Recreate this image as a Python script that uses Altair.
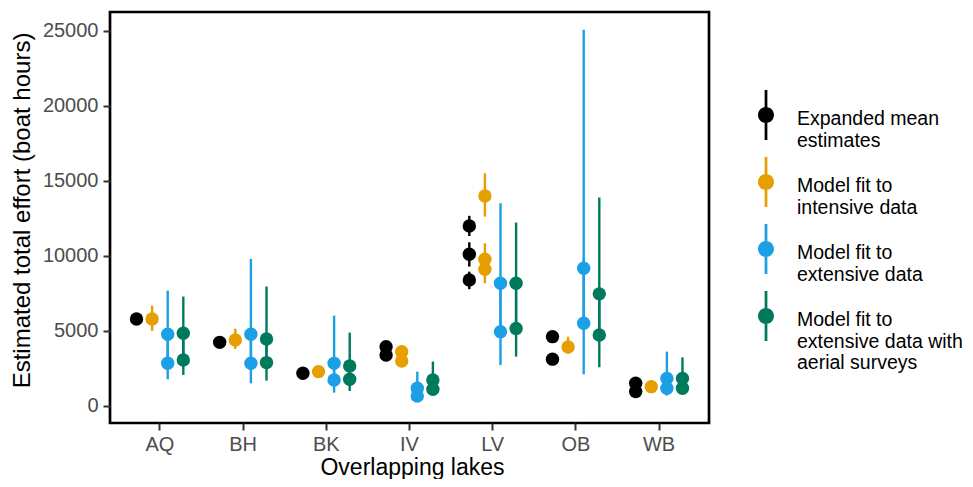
import altair as alt
import pandas as pd

lakes = ["AQ", "BH", "BK", "IV", "LV", "OB", "WB"]
series = [
    "Expanded mean estimates",
    "Model fit to intensive data",
    "Model fit to extensive data",
    "Model fit to extensive data with aerial surveys",
]
legend_lines = [
    ["Expanded mean", "estimates"],
    ["Model fit to", "intensive data"],
    ["Model fit to", "extensive data"],
    ["Model fit to", "extensive data with", "aerial surveys"],
]
colors = ["#000000", "#E69F00", "#1BA0E5", "#007A5C"]

# Expanded mean estimates
exp_lake = ["AQ", "BH", "BK", "IV", "IV", "LV", "LV", "LV", "OB", "OB", "WB", "WB"]
exp_est = [5800, 4240, 2180, 3950, 3400, 12000, 10110, 8400, 4620, 3120, 1510, 960]
exp_lo = [5580, 4080, 2060, 3790, 3250, 11330, 9290, 7780, 4460, 2960, 1400, 860]
exp_hi = [6050, 4420, 2310, 4110, 3560, 12670, 10910, 8950, 4790, 3290, 1620, 1060]

# Model fit to intensive data
int_lake = ["AQ", "BH", "BK", "IV", "IV", "LV", "LV", "LV", "OB", "WB"]
int_est = [5800, 4400, 2290, 3620, 3000, 13990, 9780, 9110, 3930, 1290]
int_lo = [5000, 3800, 2150, 3460, 2850, 12620, 8950, 8180, 3500, 1150]
int_hi = [6690, 5150, 2430, 3790, 3150, 15510, 10840, 9950, 4620, 1450]

# Model fit to extensive data
ext_lake = ["AQ", "AQ", "BH", "BH", "BK", "BK", "IV", "IV", "LV", "LV", "OB", "OB", "WB", "WB"]
ext_est = [4780, 2850, 4780, 2850, 2840, 1730, 1180, 670, 8180, 4950, 9180, 5510, 1840, 1180]
ext_lo = [2700, 1780, 2800, 1510, 1600, 890, 700, 420, 4600, 2730, 5200, 2110, 1100, 700]
ext_hi = [7690, 4500, 9800, 4600, 6020, 2900, 2290, 1300, 13510, 8300, 25070, 9800, 3620, 2200]

# Model fit to extensive data with aerial surveys
aer_lake = ["AQ", "AQ", "BH", "BH", "BK", "BK", "IV", "IV", "LV", "LV", "OB", "OB", "WB", "WB"]
aer_est = [4850, 3070, 4470, 2890, 2670, 1780, 1730, 1110, 8180, 5170, 7470, 4730, 1840, 1180]
aer_lo = [3000, 2070, 2900, 1690, 1500, 1000, 1100, 800, 5000, 3290, 4300, 2580, 1150, 800]
aer_hi = [7290, 4800, 7960, 4600, 4890, 2800, 2960, 1900, 12220, 8000, 13890, 7400, 3240, 2100]

y_ticks = [0, 5000, 10000, 15000, 20000, 25000]

frames = []
for s, c, lk, est, lo, hi in [
    (series[0], colors[0], exp_lake, exp_est, exp_lo, exp_hi),
    (series[1], colors[1], int_lake, int_est, int_lo, int_hi),
    (series[2], colors[2], ext_lake, ext_est, ext_lo, ext_hi),
    (series[3], colors[3], aer_lake, aer_est, aer_lo, aer_hi),
]:
    frames.append(pd.DataFrame({"lake": lk, "series": s, "col": c, "estimate": est, "lower": lo, "upper": hi}))
df = pd.concat(frames, ignore_index=True)

FONT = "Liberation Sans"

# multi-line legend labels
parts = []
for s, lines in zip(series, legend_lines):
    arr = "[" + ",".join("'" + l + "'" for l in lines) + "]"
    parts.append(f"datum.label == '{s}' ? {arr} : ")
label_expr = "".join(parts) + "datum.label"

# pointrange key: vertical line with a dot, drawn slightly above the entry centre
key_path = (
    "M-0.055,-1.16 L0.055,-1.16 L0.055,-0.41 L-0.055,-0.41 Z "
    "M-0.055,0.09 L0.055,0.09 L0.055,0.84 L-0.055,0.84 Z "
    "M-0.32,-0.16 A0.32,0.32 0 1,1 0.32,-0.16 A0.32,0.32 0 1,1 -0.32,-0.16 Z"
)

color_scale = alt.Scale(domain=series, range=colors)
x_enc = alt.X(
    "lake:N",
    scale=alt.Scale(domain=lakes, paddingInner=0, paddingOuter=0.1),
    axis=alt.Axis(
        title="Overlapping lakes",
        titleX=302,
        titleY=51,
        titleBaseline="alphabetic",
        titleFontSize=23,
        labelPadding=4,
    ),
)
xoff = alt.XOffset("series:N", scale=alt.Scale(domain=series, paddingInner=0, paddingOuter=0.667))
y_scale = alt.Scale(domain=[-1133, 26250], nice=False, zero=False)

base = alt.Chart(df)

rules = base.mark_rule(strokeWidth=2.4).encode(
    x=x_enc,
    xOffset=xoff,
    y=alt.Y(
        "lower:Q",
        scale=y_scale,
        axis=alt.Axis(
            title="Estimated total effort (boat hours)",
            values=y_ticks,
            format="d",
            titleX=-81,
            titleY=198,
            titleBaseline="alphabetic",
        ),
    ),
    y2="upper:Q",
    stroke=alt.Stroke("col:N", scale=None),
)

points = base.mark_circle(size=180, opacity=1).encode(
    x=x_enc,
    xOffset=xoff,
    y=alt.Y("estimate:Q", scale=y_scale),
    color=alt.Color(
        "series:N",
        scale=color_scale,
        legend=alt.Legend(
            title=None,
            orient="none",
            legendX=631,
            legendY=82,
            symbolType=key_path,
            symbolSize=2500,
            symbolStrokeWidth=0,
            symbolOpacity=1,
            labelExpr=label_expr,
            labelFont=FONT,
            labelFontSize=19.5,
            labelColor="#000000",
            labelOffset=6,
            labelLimit=400,
            rowPadding=7,
            padding=0,
        ),
    ),
)

chart = (
    alt.layer(rules, points)
    .properties(
        width=599,
        height=411,
        autosize=alt.AutoSizeParams(type="none"),
        padding={"left": 102, "top": 4, "right": 256, "bottom": 56},
    )
    .configure_view(stroke="#000000", strokeWidth=2.7)
    .configure_axis(
        grid=False,
        domain=False,
        tickColor="#333333",
        tickSize=7,
        tickWidth=2,
        labelPadding=5,
        labelFont=FONT,
        labelFontSize=20,
        labelColor="#4D4D4D",
        titleFont=FONT,
        titleFontSize=24,
        titleFontWeight="normal",
        titleColor="#000000",
    )
    .configure_axisX(labelAngle=0)
)

chart.save("out.html", embed_options={"renderer": "svg", "actions": False})
